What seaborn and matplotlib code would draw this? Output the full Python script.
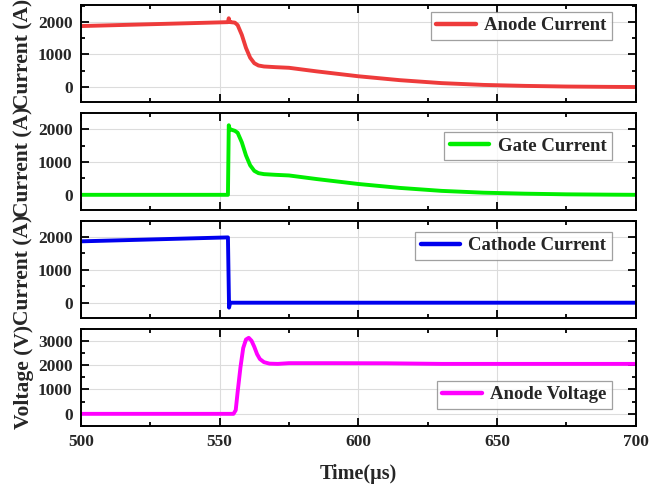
import numpy as np
import pandas as pd
import seaborn as sns
import matplotlib.pyplot as plt
from matplotlib.ticker import MultipleLocator

# Switching waveforms (time in microseconds)
t_anode = [500, 520, 540, 553, 553.3, 553.6, 554, 555.5, 556.5, 558, 559.5, 561,
           562.5, 564, 566, 570, 575, 585, 600, 615, 630, 645, 660, 675, 690, 700]
i_anode = [1870, 1915, 1960, 1990, 2110, 1995, 1990, 1975, 1900, 1600, 1200, 900,
           730, 660, 630, 610, 590, 480, 330, 210, 120, 65, 35, 15, 5, 0]

t_gate = [500, 553, 553.3, 553.6, 554, 555.5, 556.5, 558, 559.5, 561,
          562.5, 564, 566, 570, 575, 585, 600, 615, 630, 645, 660, 675, 690, 700]
i_gate = [0, 0, 2120, 2000, 1990, 1950, 1890, 1600, 1200, 900,
          730, 660, 630, 610, 590, 480, 330, 210, 120, 65, 35, 15, 5, 0]

t_cathode = [500, 553, 553.4, 553.8, 700]
i_cathode = [1870, 1990, -150, 0, 0]

t_volt = [500, 555, 555.8, 556.5, 557.5, 558.5, 559.5, 560.5, 561.5, 562.5, 563.5,
          564.5, 566, 568, 571, 575, 590, 610, 630, 650, 700]
v_anode = [0, 0, 150, 900, 1900, 2700, 3050, 3120, 3000, 2750, 2450,
           2250, 2120, 2060, 2050, 2080, 2080, 2075, 2050, 2050, 2050]

names = ["Anode Current", "Gate Current", "Cathode Current", "Anode Voltage"]
ylabels = ["Current (A)", "Current (A)", "Current (A)", "Voltage (V)"]
data = [(t_anode, i_anode), (t_gate, i_gate), (t_cathode, i_cathode), (t_volt, v_anode)]

# Styling for each panel
colors = ["#ee3b3b", "#00ee00", "#0000ee", "#ff00ff"]
ylims = [(-470, 2520), (-470, 2500), (-470, 2500), (-500, 3500)]
legend_loc = [("upper right", (0.957, 0.93)), ("upper right", (0.957, 0.805)),
              ("upper right", (0.957, 0.888)), ("lower right", (0.957, 0.175))]

sns.set_style("ticks")
plt.rcParams["font.family"] = ["Liberation Serif", "DejaVu Serif"]
plt.rcParams["font.weight"] = "bold"

fig, axes = plt.subplots(4, 1, figsize=(6.63, 4.88), dpi=100, sharex=True)
fig.subplots_adjust(left=0.122, right=0.959, top=0.990, bottom=0.127, hspace=0.107)

for i, ax in enumerate(axes):
    t, y = data[i]
    df = pd.DataFrame({"t": t, "y": y})
    sns.lineplot(data=df, x="t", y="y", ax=ax, color=colors[i], linewidth=2.8,
                 label=names[i], sort=False)
    ax.set_xlim(500, 700)
    ax.set_ylim(*ylims[i])
    ax.yaxis.set_major_locator(MultipleLocator(1000))
    ax.yaxis.set_minor_locator(MultipleLocator(500))
    ax.xaxis.set_major_locator(MultipleLocator(50))
    ax.xaxis.set_minor_locator(MultipleLocator(25))
    ax.grid(True, which="major", color="#dcdcdc", linewidth=0.8)
    ax.set_axisbelow(True)
    ax.tick_params(which="both", direction="in", top=True, right=True, width=1.3,
                   color="black")
    ax.tick_params(which="major", length=5.5, labelsize=12.5, pad=6)
    ax.tick_params(which="minor", length=3)
    for lbl in ax.get_yticklabels() + ax.get_xticklabels():
        lbl.set_fontweight("bold")
    for sp in ax.spines.values():
        sp.set_linewidth(1.4)
        sp.set_color("black")
    ax.set_ylabel(ylabels[i], fontsize=15.5, fontweight="bold", labelpad=3)
    ax.set_xlabel("")
    loc, anchor = legend_loc[i]
    leg = ax.legend(loc=loc, bbox_to_anchor=anchor, prop={"weight": "bold", "size": 13.5},
                    frameon=True, fancybox=False, edgecolor="#888888",
                    handlelength=2.1, handletextpad=0.45, borderpad=0.3,
                    borderaxespad=0)
    leg.get_frame().set_linewidth(0.9)
    for h in leg.get_lines():
        h.set_linewidth(3.2)

axes[-1].set_xlabel("Time(\u00b5s)", fontsize=14.5, fontweight="bold", labelpad=10)
fig.align_ylabels(axes)

fig.savefig("out.png", dpi=100)
